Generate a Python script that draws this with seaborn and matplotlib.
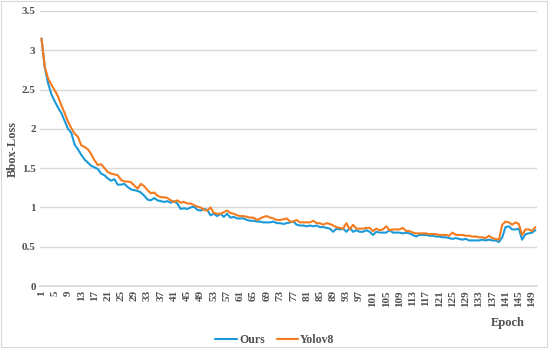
import matplotlib
matplotlib.use("Agg")
import matplotlib.pyplot as plt
import numpy as np
import pandas as pd
import seaborn as sns
from matplotlib.patches import Rectangle

epochs = list(range(1, 151))

ours = [3.15, 2.78, 2.58, 2.44, 2.35, 2.27, 2.20, 2.10, 2.00, 1.95,
        1.80, 1.74, 1.67, 1.61, 1.57, 1.53, 1.51, 1.49, 1.43, 1.41,
        1.37, 1.34, 1.36, 1.29, 1.29, 1.30, 1.26, 1.23, 1.22, 1.21,
        1.19, 1.15, 1.10, 1.09, 1.12, 1.09, 1.08, 1.07, 1.08, 1.06,
        1.08, 1.05, 0.98, 0.99, 0.98, 1.00, 1.01, 0.97, 0.96, 0.98,
        0.97, 0.90, 0.92, 0.89, 0.92, 0.88, 0.92, 0.87, 0.88, 0.86,
        0.86, 0.86, 0.84, 0.83, 0.83, 0.82, 0.82, 0.81, 0.81, 0.81,
        0.82, 0.80, 0.80, 0.79, 0.80, 0.81, 0.82, 0.78, 0.77, 0.77,
        0.76, 0.77, 0.76, 0.77, 0.75, 0.75, 0.74, 0.73, 0.69, 0.73,
        0.72, 0.73, 0.69, 0.74, 0.69, 0.71, 0.69, 0.69, 0.71, 0.69,
        0.65, 0.69, 0.68, 0.68, 0.68, 0.71, 0.68, 0.68, 0.68, 0.67,
        0.68, 0.67, 0.65, 0.63, 0.65, 0.65, 0.65, 0.64, 0.64, 0.63,
        0.63, 0.62, 0.62, 0.61, 0.60, 0.61, 0.60, 0.59, 0.60, 0.58,
        0.58, 0.58, 0.58, 0.59, 0.58, 0.59, 0.58, 0.58, 0.56, 0.62,
        0.75, 0.76, 0.72, 0.72, 0.73, 0.59, 0.66, 0.67, 0.68, 0.71]

yolov8 = [3.15, 2.79, 2.64, 2.56, 2.49, 2.41, 2.30, 2.20, 2.09, 2.01,
          1.94, 1.90, 1.79, 1.77, 1.74, 1.68, 1.60, 1.54, 1.55, 1.50,
          1.45, 1.43, 1.42, 1.41, 1.35, 1.33, 1.33, 1.32, 1.28, 1.24,
          1.30, 1.27, 1.22, 1.18, 1.19, 1.15, 1.13, 1.13, 1.12, 1.09,
          1.07, 1.09, 1.06, 1.07, 1.05, 1.05, 1.03, 1.01, 1.00, 0.97,
          0.96, 1.00, 0.93, 0.92, 0.92, 0.94, 0.96, 0.93, 0.92, 0.90,
          0.89, 0.89, 0.88, 0.87, 0.87, 0.84, 0.86, 0.88, 0.89, 0.87,
          0.86, 0.84, 0.84, 0.85, 0.86, 0.82, 0.82, 0.84, 0.81, 0.81,
          0.81, 0.81, 0.83, 0.80, 0.80, 0.78, 0.80, 0.79, 0.77, 0.75,
          0.74, 0.73, 0.80, 0.72, 0.78, 0.73, 0.73, 0.73, 0.74, 0.74,
          0.70, 0.73, 0.71, 0.72, 0.76, 0.71, 0.72, 0.72, 0.72, 0.74,
          0.70, 0.70, 0.68, 0.67, 0.67, 0.67, 0.67, 0.66, 0.66, 0.66,
          0.65, 0.65, 0.65, 0.64, 0.68, 0.65, 0.65, 0.65, 0.64, 0.64,
          0.63, 0.63, 0.62, 0.62, 0.61, 0.64, 0.61, 0.60, 0.59, 0.78,
          0.82, 0.81, 0.78, 0.81, 0.79, 0.65, 0.72, 0.72, 0.70, 0.75]

series_names = ["Ours", "Yolov8"]
colors = ["#1B9AD9", "#F47B20"]
yticks = [0, 0.5, 1, 1.5, 2, 2.5, 3, 3.5]
ytick_labels = ["0", "0.5", "1", "1.5", "2", "2.5", "3", "3.5"]

df = pd.DataFrame({
    "Epoch": epochs * 2,
    "Bbox-Loss": ours + yolov8,
    "Model": ["Ours"] * len(ours) + ["Yolov8"] * len(yolov8),
})

sns.set_theme(style="white")
plt.rcParams["font.family"] = ["Liberation Serif", "DejaVu Serif"]
plt.rcParams["font.weight"] = "bold"
txt = "#505050"

fig = plt.figure(figsize=(5.5, 3.54), dpi=100)
ax = fig.add_axes([0.0724, 0.192, 0.904, 0.777])

sns.lineplot(data=df, x="Epoch", y="Bbox-Loss", hue="Model",
             palette=dict(zip(series_names, colors)), linewidth=1.5, ax=ax)

ax.set_xlim(0.5, 150.5)
ax.set_ylim(0, 3.5)
ax.set_yticks(yticks)
ax.set_yticklabels(ytick_labels, fontsize=8, fontweight="bold", color=txt)
xt = epochs[::4]
ax.set_xticks(xt)
ax.set_xticklabels([str(e) for e in xt], rotation=90, fontsize=8,
                   fontweight="bold", color=txt)
ax.tick_params(axis="both", length=0, pad=3)
ax.yaxis.grid(True, color="#d9d9d9", linewidth=1)
ax.set_axisbelow(True)
for s in ["top", "right", "left"]:
    ax.spines[s].set_visible(False)
ax.spines["bottom"].set_color("#d9d9d9")

ax.set_ylabel("Bbox-Loss", fontsize=9, fontweight="bold", color=txt, labelpad=2)
ax.set_xlabel("")
fig.text(508 / 550, 1 - 323 / 354, "Epoch", fontsize=9, fontweight="bold",
         color=txt, ha="center", va="center")

handles, labels = ax.get_legend_handles_labels()
ax.legend(handles, labels, loc="center", bbox_to_anchor=(275 / 550, 1 - 340 / 354),
          bbox_transform=fig.transFigure, ncol=2, frameon=False,
          prop={"size": 8.5, "weight": "bold"}, labelcolor=txt,
          handlelength=1.8, handletextpad=0.2, columnspacing=1.0)

fig.patches.append(Rectangle((0.001, 1 - 347 / 354), 547 / 550 - 0.001, 347 / 354 - 0.002,
                             transform=fig.transFigure, fill=False,
                             edgecolor="#d9d9d9", linewidth=0.8))

fig.savefig("out.png", dpi=100)
